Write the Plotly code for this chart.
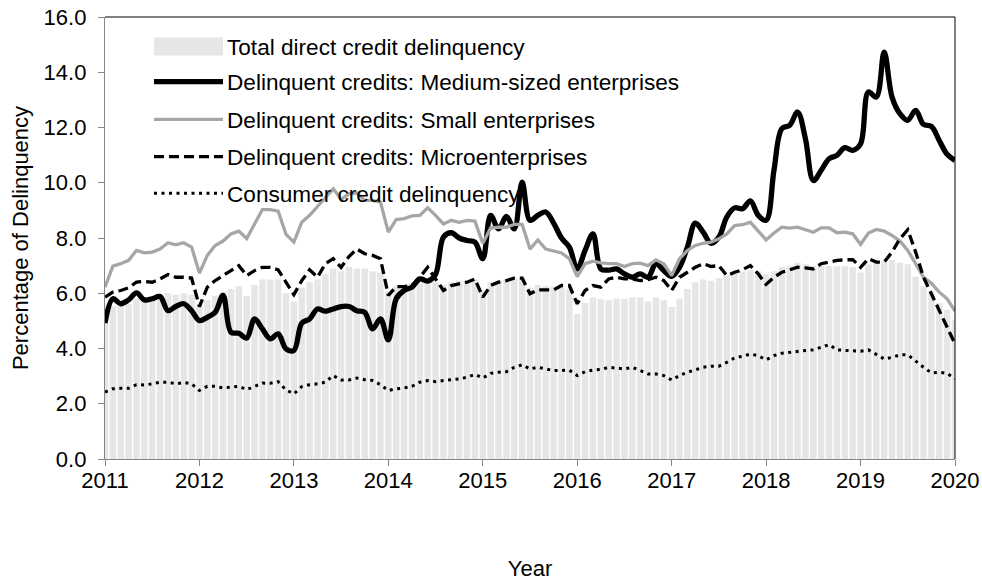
import plotly.graph_objects as go

# ---------------- data ----------------
YEARS = [str(y) for y in range(2011, 2021)]
MONTHS = [f"{y}-{m:02d}" for y in range(2011, 2020) for m in range(1, 13)] + ["2020-01"]

TOTAL = [
    5.50, 5.55, 5.55, 5.60, 5.80, 5.85, 5.90, 5.95, 6.00, 5.95, 6.00, 5.95,
    5.60, 5.75, 5.90, 6.05, 6.15, 6.25, 5.90, 6.30, 6.50, 6.50, 6.50, 6.00,
    5.70, 6.20, 6.40, 6.50, 6.70, 6.90, 6.80, 6.95, 6.90, 6.90, 6.80, 6.75,
    6.05, 6.25, 6.30, 6.35, 6.40, 6.45, 6.40, 6.30, 6.40, 6.45, 6.45, 6.50,
    6.10, 6.40, 6.45, 6.50, 6.55, 6.55, 6.20, 6.30, 6.25, 6.25, 6.20, 6.15,
    5.25, 5.65, 5.85, 5.80, 5.75, 5.80, 5.80, 5.85, 5.85, 5.70, 5.85, 5.75,
    5.50, 5.80, 6.15, 6.40, 6.50, 6.45, 6.55, 6.65, 6.75, 6.80, 6.85, 6.80,
    6.70, 6.80, 6.95, 7.00, 7.10, 7.05, 7.00, 7.00, 7.00, 6.98, 6.98, 6.95,
    6.75, 7.05, 7.10, 7.15, 7.20, 7.10, 7.05, 6.60, 6.25, 6.05, 5.65, 5.40,
    5.05,
]

MEDIUM = [
    4.92, 5.80, 5.62, 5.76, 6.01, 5.76, 5.80, 5.88, 5.37, 5.52, 5.62, 5.37,
    5.01, 5.13, 5.31, 5.92, 4.59, 4.55, 4.38, 5.07, 4.71, 4.35, 4.53, 3.99,
    3.93, 4.92, 5.07, 5.43, 5.35, 5.43, 5.52, 5.52, 5.37, 5.31, 4.71, 5.07,
    4.31, 5.80, 6.10, 6.22, 6.52, 6.44, 6.68, 8.03, 8.19, 8.00, 7.91, 7.85,
    7.25, 8.82, 8.33, 8.78, 8.33, 10.02, 8.64, 8.82, 8.94, 8.54, 8.00, 7.67,
    6.88, 7.55, 8.15, 6.88, 6.84, 6.88, 6.70, 6.58, 6.70, 6.58, 7.07, 6.82,
    6.61, 6.94, 7.67, 8.54, 8.21, 7.81, 8.03, 8.76, 9.09, 9.06, 9.34, 8.82,
    8.64, 10.45, 11.96, 12.08, 12.56, 11.59, 10.08, 10.45, 10.87, 10.99, 11.27, 11.17,
    11.41, 13.29, 13.10, 14.73, 13.10, 12.50, 12.26, 12.62, 12.11, 12.04, 11.53, 11.03,
    10.81,
]

SMALL = [
    6.22, 6.98, 7.07, 7.19, 7.55, 7.46, 7.49, 7.60, 7.83, 7.75, 7.83, 7.67,
    6.73, 7.37, 7.73, 7.89, 8.15, 8.25, 7.98, 8.51, 9.03, 9.03, 8.97, 8.13,
    7.85, 8.57, 8.82, 9.14, 9.48, 9.78, 9.40, 9.60, 9.63, 9.36, 9.36, 9.30,
    8.21, 8.67, 8.70, 8.80, 8.82, 9.09, 8.82, 8.51, 8.64, 8.57, 8.64, 8.61,
    7.81, 8.36, 8.39, 8.39, 8.49, 8.49, 7.60, 7.93, 7.60, 7.52, 7.46, 7.25,
    6.60, 7.07, 7.16, 7.10, 7.07, 7.07, 6.97, 7.07, 7.09, 7.00, 7.21, 7.07,
    6.64, 7.25, 7.55, 7.73, 7.81, 7.85, 7.97, 8.15, 8.45, 8.48, 8.57, 8.25,
    7.93, 8.18, 8.39, 8.36, 8.39, 8.30, 8.21, 8.37, 8.37, 8.19, 8.21, 8.15,
    7.77, 8.18, 8.31, 8.25, 8.09, 7.89, 7.55, 7.07, 6.58, 6.36, 6.04, 5.80,
    5.35,
]

MICRO = [
    5.86, 6.04, 6.10, 6.20, 6.40, 6.43, 6.40, 6.52, 6.68, 6.58, 6.58, 6.55,
    5.52, 6.22, 6.46, 6.64, 6.82, 7.00, 6.64, 6.82, 6.94, 6.94, 6.85, 6.40,
    5.95, 6.46, 6.85, 6.58, 7.07, 7.25, 6.94, 7.33, 7.60, 7.43, 7.37, 7.25,
    5.92, 6.24, 6.24, 6.28, 6.58, 6.94, 6.50, 6.10, 6.28, 6.34, 6.40, 6.52,
    5.86, 6.28, 6.40, 6.46, 6.55, 6.55, 5.98, 6.12, 6.12, 6.12, 6.28, 6.28,
    5.62, 6.10, 6.28, 6.22, 6.52, 6.58, 6.52, 6.52, 6.46, 6.49, 6.58, 6.46,
    6.10, 6.58, 6.76, 6.94, 7.07, 6.97, 7.00, 6.64, 6.76, 6.85, 7.00, 6.70,
    6.32, 6.58, 6.76, 6.85, 6.94, 6.92, 6.88, 7.07, 7.13, 7.19, 7.21, 7.22,
    6.94, 7.25, 7.13, 7.13, 7.49, 7.97, 8.30, 7.49, 6.58, 5.98, 5.37, 4.83,
    4.17,
]

CONSUMER = [
    2.42, 2.54, 2.56, 2.56, 2.69, 2.68, 2.72, 2.78, 2.78, 2.72, 2.77, 2.72,
    2.48, 2.63, 2.63, 2.57, 2.60, 2.63, 2.51, 2.62, 2.75, 2.74, 2.80, 2.50,
    2.36, 2.62, 2.69, 2.72, 2.78, 3.02, 2.86, 2.86, 2.93, 2.87, 2.84, 2.69,
    2.48, 2.54, 2.57, 2.63, 2.78, 2.84, 2.80, 2.84, 2.87, 2.90, 2.96, 3.06,
    2.93, 3.10, 3.14, 3.16, 3.32, 3.41, 3.26, 3.32, 3.26, 3.20, 3.20, 3.22,
    3.02, 3.16, 3.22, 3.24, 3.32, 3.29, 3.26, 3.32, 3.20, 3.08, 3.08, 3.02,
    2.86, 3.02, 3.14, 3.22, 3.32, 3.36, 3.36, 3.50, 3.66, 3.72, 3.80, 3.74,
    3.59, 3.74, 3.83, 3.86, 3.90, 3.93, 3.95, 4.05, 4.14, 3.95, 3.93, 3.90,
    3.90, 3.95, 3.80, 3.62, 3.68, 3.77, 3.77, 3.54, 3.32, 3.12, 3.14, 3.10,
    2.90,
]

NAMES = [
    "Total direct credit delinquency",
    "Delinquent credits: Medium-sized enterprises",
    "Delinquent credits: Small enterprises",
    "Delinquent credits: Microenterprises",
    "Consumer credit delinquency",
]

# ---------------- styling ----------------
W, H = 982, 581
ML, MR, MT, MB = 105, 27, 17, 122
FONT = "Liberation Sans, Arial, sans-serif"
BAR_COLOR = "#e6e6e6"
GRAY = "#a6a6a6"
AXIS = "#868686"

x = list(range(len(MONTHS)))
tickvals = [MONTHS.index(f"{y}-01") for y in YEARS]

line_styles = [
    dict(color="black", width=5.3),
    dict(color=GRAY, width=3.3),
    dict(color="black", width=3.3, dash="10px,5px"),
    dict(color="black", width=3, dash="3px,4.5px"),
]
series = [MEDIUM, SMALL, MICRO, CONSUMER]
shapes_kind = ["spline", "linear", "linear", "linear"]

fig = go.Figure()
fig.add_trace(go.Bar(x=x, y=TOTAL, name=NAMES[0], marker=dict(color=BAR_COLOR, line=dict(width=0)),
                     showlegend=False))
for vals, st, shp, nm in zip(series, line_styles, shapes_kind, NAMES[1:]):
    fig.add_trace(go.Scatter(x=x, y=vals, mode="lines", name=nm,
                             line=dict(shape=shp, **st), showlegend=False))

# ---- manual legend (long symbols like the original) ----
pw = W - ML - MR
ph = H - MT - MB


def px(xp):
    return (xp - ML) / pw


def py(yp):
    return (H - MB - yp) / ph


row_y = [46.5, 81.7, 119.3, 156.7, 193.3]
sym_x0, sym_x1, txt_x = 154, 223, 225
shapes = []
shapes.append(dict(type="rect", xref="paper", yref="paper",
                   x0=px(sym_x0), x1=px(sym_x1), y0=py(row_y[0] + 9), y1=py(row_y[0] - 9),
                   fillcolor=BAR_COLOR, line=dict(width=0), layer="above"))
for ry, st in zip(row_y[1:], line_styles):
    shapes.append(dict(type="line", xref="paper", yref="paper",
                       x0=px(sym_x0), x1=px(sym_x1), y0=py(ry), y1=py(ry),
                       line=st, layer="above"))
# top & right frame
shapes.append(dict(type="line", xref="paper", yref="paper", x0=0, x1=1, y0=1, y1=1,
                   line=dict(color="black", width=1)))
shapes.append(dict(type="line", xref="paper", yref="paper", x0=1, x1=1, y0=0, y1=1,
                   line=dict(color="black", width=1)))

annotations = []
for ry, nm in zip(row_y, NAMES):
    annotations.append(dict(xref="paper", yref="paper", x=px(txt_x), y=py(ry + 1),
                            xanchor="left", yanchor="middle", text=nm, showarrow=False,
                            font=dict(family=FONT, size=22.6, color="black")))

fig.update_layout(
    width=W, height=H,
    margin=dict(l=ML, r=MR, t=MT, b=MB, autoexpand=False),
    paper_bgcolor="white", plot_bgcolor="white",
    font=dict(family=FONT, size=22, color="black"),
    bargap=0.18,
    shapes=shapes,
    annotations=annotations,
    showlegend=False,
)
fig.update_xaxes(
    range=[0, len(MONTHS) - 1], tickmode="array", tickvals=tickvals, ticktext=YEARS,
    showline=True, linecolor=AXIS, linewidth=1.3, ticks="outside", ticklen=6,
    tickcolor=AXIS, tickwidth=1.3, showgrid=False, zeroline=False,
    ticklabelstandoff=-5,
    title=dict(text="Year", standoff=72, font=dict(size=22)), automargin=False,
)
fig.update_yaxes(
    range=[0, 16], dtick=2, tick0=0, tickformat=".1f",
    showline=True, linecolor=AXIS, linewidth=1.3, ticks="outside", ticklen=6,
    tickcolor=AXIS, tickwidth=1.3, showgrid=False, zeroline=False,
    ticklabelstandoff=7,
    title=dict(text="Percentage of Delinquency", standoff=8, font=dict(size=22)),
    automargin=False,
)

fig.write_html(
    "out.html",
    config={"displayModeBar": False},
    post_script="document.body.style.margin='0';document.body.style.overflow='hidden';",
)
